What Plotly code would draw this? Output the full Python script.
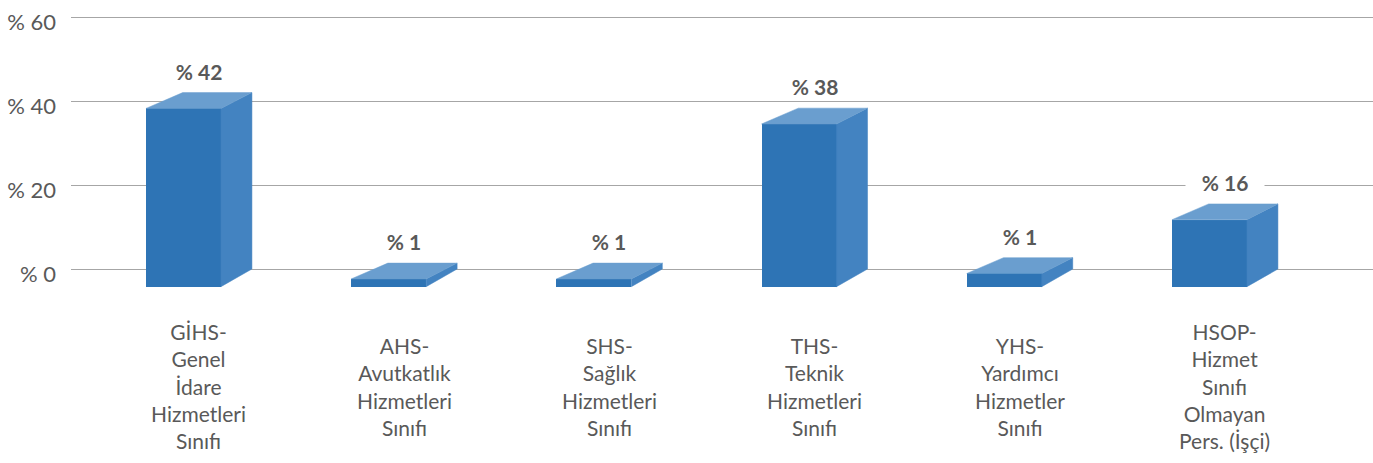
import plotly.graph_objects as go

# ---- data ----
categories = [
    ["GİHS-", "Genel", "İdare", "Hizmetleri", "Sınıfı"],
    ["AHS-", "Avutkatlık", "Hizmetleri", "Sınıfı"],
    ["SHS-", "Sağlık", "Hizmetleri", "Sınıfı"],
    ["THS-", "Teknik", "Hizmetleri", "Sınıfı"],
    ["YHS-", "Yardımcı", "Hizmetler", "Sınıfı"],
    ["HSOP-", "Hizmet", "Sınıfı", "Olmayan", "Pers. (İşçi)"],
]
values = [42.0, 1.4, 1.4, 38.3, 2.7, 15.5]
value_labels = ["% 42", "% 1", "% 1", "% 38", "% 1", "% 16"]
y_ticks = [0, 20, 40, 60]
y_tick_text = ["% 0", "% 20", "% 40", "% 60"]

# ---- styling / 3D geometry (axis units) ----
FRONT = "#2E74B5"
TOP = "#6A9ECF"
SIDE = "#4383C1"
TXT = "#595959"
FONT = "Lato"

half_w = 0.1827          # half width of front face
dx_left = 0.179          # depth offset of back-left corner
dx_right = 0.151         # depth offset of back-right corner
dy_top = 3.77            # depth offset at the top
front_base = -4.21       # bottom of the front face

xs = list(range(len(values)))

fig = go.Figure()

# front faces
fig.add_trace(go.Bar(
    x=xs, y=[v - dy_top - front_base for v in values], base=[front_base] * len(values),
    width=2 * half_w, marker=dict(color=FRONT, line=dict(width=0)),
    hoverinfo="skip", showlegend=False,
))

for i, v in zip(xs, values):
    fl, fr = i - half_w, i + half_w
    ft = v - dy_top
    # side face
    fig.add_trace(go.Scatter(
        x=[fr, fr, fr + dx_right, fr + dx_right, fr],
        y=[front_base, ft, v, 0, front_base],
        fill="toself", fillcolor=SIDE, mode="lines",
        line=dict(color=SIDE, width=0.5), hoverinfo="skip", showlegend=False,
    ))
    # top face
    fig.add_trace(go.Scatter(
        x=[fl, fr, fr + dx_right, fl + dx_left, fl],
        y=[ft, ft, v, v, ft],
        fill="toself", fillcolor=TOP, mode="lines",
        line=dict(color=TOP, width=0.5), hoverinfo="skip", showlegend=False,
    ))

label_dx = 0.0755
annotations = []
for i, v, lab in zip(xs, values, value_labels):
    annotations.append(dict(
        x=i + label_dx, y=v + 5.24, xref="x", yref="y", text=lab, showarrow=False,
        xanchor="center", yanchor="middle",
        font=dict(family=FONT, size=21, color=TXT, weight="bold"),
        bgcolor="white", width=74, height=22, borderpad=2,
    ))
for i, lines in zip(xs, categories):
    annotations.append(dict(
        x=i + label_dx, y=(269 - 386) / 4.2, xref="x", yref="y",
        text="<br>".join(lines), showarrow=False, xanchor="center", yanchor="middle",
        align="center", font=dict(family=FONT, size=21, color=TXT),
    ))

fig.update_layout(
    width=1373, height=463,
    margin=dict(l=71, r=0, t=0, b=0),
    paper_bgcolor="white", plot_bgcolor="white",
    annotations=annotations,
    xaxis=dict(range=[-0.548, 5.797], showgrid=False, zeroline=False,
               showticklabels=False, showline=False, fixedrange=True),
    yaxis=dict(range=[(269 - 463) / 4.2, 269 / 4.2], tickvals=y_ticks, ticktext=y_tick_text,
               showgrid=True, gridcolor="#A6A6A6", gridwidth=1, zeroline=False,
               showline=False, ticks="", ticklabelstandoff=14, ticklabelshift=5,
               ticklabeloverflow="allow", fixedrange=True,
               tickfont=dict(family=FONT, size=22, color=TXT), automargin=False),
    font=dict(family=FONT),
    bargap=0,
    hovermode=False,
)

fig.write_html("out.html", config={"displayModeBar": False, "staticPlot": True},
               post_script="document.body.style.margin='0';")
